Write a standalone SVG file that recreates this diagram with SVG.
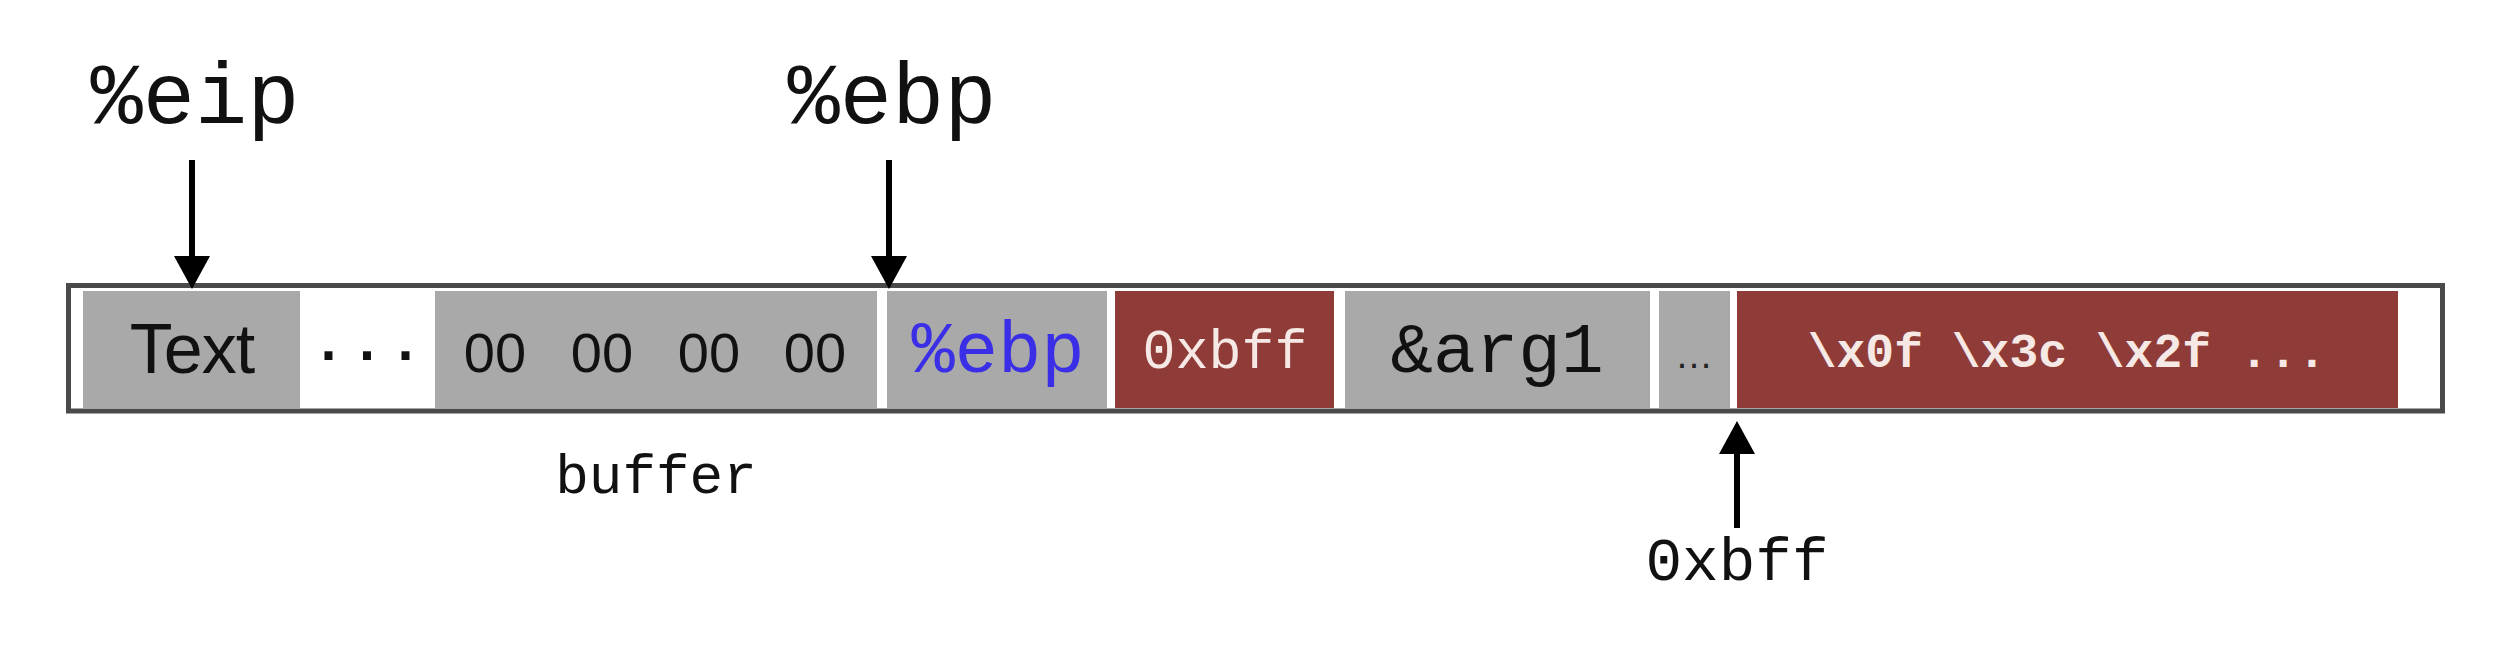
<svg xmlns="http://www.w3.org/2000/svg" width="2500" height="656" viewBox="0 0 2500 656">
<defs>
<style>
.mono{font-family:"Liberation Mono","DejaVu Sans Mono",monospace;}
.sans{font-family:"Liberation Sans","DejaVu Sans",sans-serif;}
.gray{fill:#a9a9a9;}
.red{fill:#8f3b37;}
.wt{fill:#f6e8e4;}
.blk{fill:#111;}
.conn{stroke:#000;stroke-width:6;fill:none;}
</style>
<marker id="ah" markerUnits="userSpaceOnUse" markerWidth="34" markerHeight="36" refX="0" refY="18" orient="auto" viewBox="0 0 34 36">
<path d="M0,0 L33,18 L0,36 Z" fill="#000"/>
</marker>
</defs>
<rect width="2500" height="656" fill="#fff"/>
<g id="stack">
<rect x="68.5" y="285.5" width="2374" height="125.5" fill="#fff" stroke="#4a4a4a" stroke-width="5"/>
</g>
<g id="cell-text">
<rect class="gray" x="83" y="291" width="217" height="117"/>
<text class="sans blk" x="192" y="373" font-size="70" text-anchor="middle" letter-spacing="-1">Text</text>
</g>
<g id="cell-dots">
<text class="sans blk" x="367" y="373" font-size="63" text-anchor="middle" stroke="#111" stroke-width="2">· · ·</text>
</g>
<g id="cell-buffer">
<rect class="gray" x="435" y="291" width="442" height="117"/>
<text class="sans blk" y="372" font-size="56" text-anchor="middle"><tspan x="495">00</tspan><tspan x="602">00</tspan><tspan x="709">00</tspan><tspan x="815">00</tspan></text>
</g>
<g id="cell-ebp">
<rect class="gray" x="887" y="291" width="220" height="117"/>
<text class="mono" x="998" y="372" font-size="72" text-anchor="middle" fill="#3a2ee6">%ebp</text>
</g>
<g id="cell-ret">
<rect class="red" x="1115" y="291" width="219" height="117"/>
<text class="mono wt" x="1225" y="368" font-size="55" text-anchor="middle">0xbff</text>
</g>
<g id="cell-arg1">
<rect class="gray" x="1345" y="291" width="305" height="117"/>
<text class="mono blk" x="1497" y="372" font-size="71" text-anchor="middle">&amp;arg1</text>
</g>
<g id="cell-ellipsis">
<rect class="gray" x="1659" y="291" width="71" height="117"/>
<text class="sans" x="1694" y="368" font-size="38" text-anchor="middle" fill="#222">…</text>
</g>
<g id="cell-shellcode">
<rect class="red" x="1737" y="291" width="661" height="117"/>
<text class="mono wt" x="2067" y="367" font-size="48" font-weight="bold" text-anchor="middle">\x0f \x3c \x2f ...</text>
</g>
<g id="label-eip">
<text class="mono blk" x="195" y="123" font-size="87" text-anchor="middle">%eip</text>
</g>
<g id="label-ebp">
<text class="mono blk" x="892" y="123" font-size="87" text-anchor="middle">%ebp</text>
</g>
<g id="label-buffer">
<text class="mono blk" x="656" y="493" font-size="56" text-anchor="middle">buffer</text>
</g>
<g id="label-addr">
<text class="mono blk" x="1737" y="580" font-size="61" text-anchor="middle">0xbff</text>
</g>
<g id="connectors">
<line class="conn" x1="192" y1="160" x2="192" y2="256" marker-end="url(#ah)"/>
<line class="conn" x1="889" y1="160" x2="889" y2="256" marker-end="url(#ah)"/>
<line class="conn" x1="1737" y1="528" x2="1737" y2="454" marker-end="url(#ah)"/>
</g>
</svg>
